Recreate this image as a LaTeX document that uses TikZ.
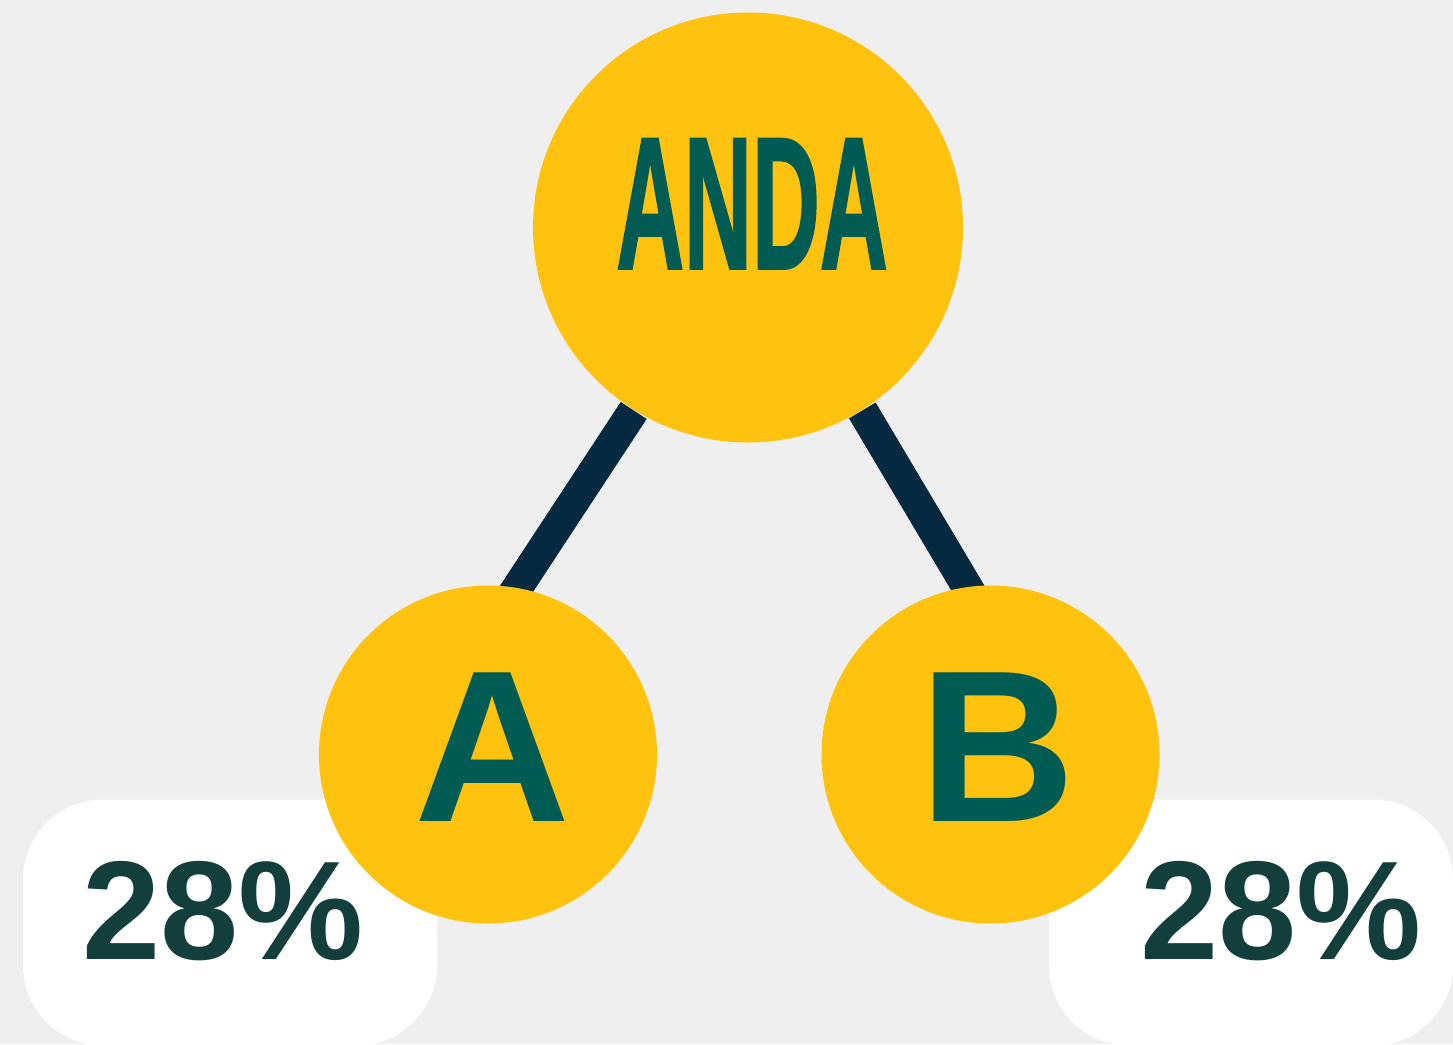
\documentclass[tikz,border=0pt]{standalone}
\usepackage{fontspec}
\setmainfont{Liberation Sans}
\usetikzlibrary{backgrounds}
\definecolor{pagegray}{HTML}{EFEFEF}
\definecolor{nodeyellow}{HTML}{FFC30F}
\definecolor{letterteal}{HTML}{005C53}
\definecolor{edgenavy}{HTML}{042940}
\definecolor{percentteal}{HTML}{123F3C}
\tikzset{
    ball/.style={circle, fill=nodeyellow, inner sep=0pt},
    tag/.style={rectangle, fill=white, rounded corners=.8cm, inner sep=0pt, minimum height=2.46cm},
    edge/.style={color=edgenavy, line width=3.1mm},
    letter/.style={color=letterteal, anchor=base, inner sep=0pt, font=\fontsize{61.5}{62}\selectfont\bfseries},
    percent/.style={color=percentteal, anchor=base, inner sep=0pt, font=\fontsize{40}{41}\selectfont\bfseries}
}
\begin{document}
\begin{tikzpicture}
    \useasboundingbox (0,0) rectangle (14.53,10.44);
    \node[tag, minimum width=4.14cm] (lefttag) at (2.30,1.215) {};
    \node[tag, minimum width=4.04cm] (righttag) at (12.51,1.215) {};
    \node[ball, minimum size=4.30cm] (anda) at (7.48,8.165) {};
    \node[ball, minimum size=3.38cm] (a) at (4.88,2.895) {};
    \node[ball, minimum size=3.38cm] (b) at (9.905,2.895) {};
    \node[letter, transform shape, xscale=.5] (andatext) at (7.52,7.755) {\addfontfeature{FakeBold=1.5}\fontsize{53.5}{54}\selectfont ANDA};
    \node[letter] (atext) at (4.925,2.23) {A};
    \node[letter] (btext) at (9.98,2.23) {B};
    \node[percent] (lefttext) at (2.23,.85) {28\%};
    \node[percent] (righttext) at (12.81,.85) {28\%};
    \begin{scope}[on background layer]
        \fill[pagegray] (0,0) rectangle (14.53,10.44);
        \draw[edge, shorten >=-2mm] (anda.238) -- (a.80.5);
        \draw[edge, shorten >=-2mm] (anda.302) -- (b.98.8);
    \end{scope}
\end{tikzpicture}
\end{document}
